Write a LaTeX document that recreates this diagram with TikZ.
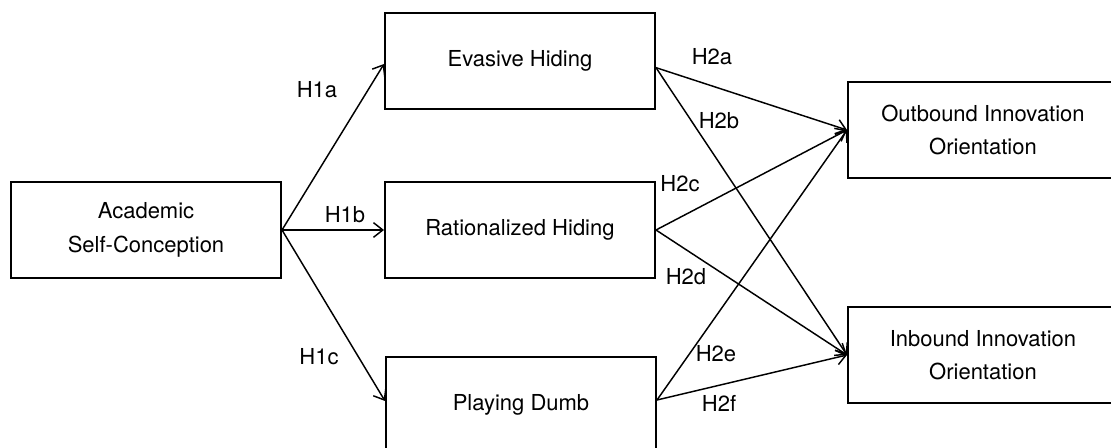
\documentclass[tikz,border=0pt]{standalone}
\usepackage{fontspec}
\setmainfont{TeX Gyre Heros}
\usetikzlibrary{arrows.meta}
\begin{document}
\begin{tikzpicture}[x=0.75pt,y=-0.75pt,
  box/.style={draw, line width=1.5pt, minimum width=202.5pt, minimum height=72pt,
    inner sep=0pt, align=center, font=\fontsize{16.5}{25}\selectfont},
  conn/.style={line width=1.1pt, -{Straight Barb[length=7pt,width=11pt,line width=1.1pt]}},
  lab/.style={font=\fontsize{16.5}{20}\selectfont, inner sep=0pt}]
\useasboundingbox (0,0) rectangle (1111,448);
% boxes
\node[box] (A) at (146,230) {Academic\\Self-Conception};
\node[box] (E) at (520,61) {Evasive Hiding};
\node[box] (R) at (520,230) {Rationalized Hiding};
\node[box] (P) at (521,405) {Playing Dumb};
\node[box] (O) at (983,130) {Outbound Innovation\\Orientation};
\node[box] (I) at (983,355) {Inbound Innovation\\Orientation};
% connectors
\draw[conn] (A.east) -- ([yshift=-2.25pt]E.west);
\draw[conn] (A.east) -- (R.west);
\draw[conn] (A.east) -- ([yshift=3pt]P.west);
\draw[conn] ([yshift=-5pt]E.east) -- (O.west);
\draw[conn] ([yshift=-5pt]E.east) -- (I.west);
\draw[conn] (R.east) -- (O.west);
\draw[conn] (R.east) -- (I.west);
\draw[conn] ([yshift=3.75pt]P.east) -- (O.west);
\draw[conn] ([yshift=3.75pt]P.east) -- (I.west);
% labels
\node[lab] (l1a) at (317,90) {H1a};
\node[lab] (l1b) at (345,215) {H1b};
\node[lab] (l1c) at (319,357) {H1c};
\node[lab] (l2a) at (712,57) {H2a};
\node[lab] (l2b) at (719,121) {H2b};
\node[lab] (l2c) at (680,184) {H2c};
\node[lab] (l2d) at (686,277) {H2d};
\node[lab] (l2e) at (716,354) {H2e};
\node[lab] (l2f) at (719,403) {H2f};
\end{tikzpicture}
\end{document}
